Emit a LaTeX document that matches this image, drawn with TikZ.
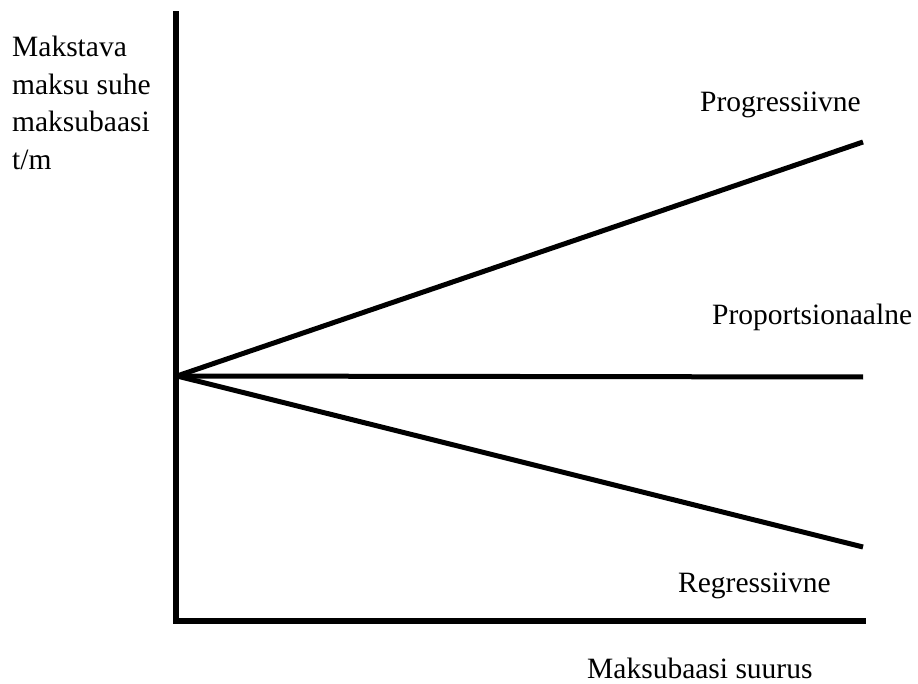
\documentclass[tikz,border=0pt]{standalone}
\usepackage{fontspec}
\setmainfont{Liberation Serif}
\begin{document}
\begin{tikzpicture}[x=1pt,y=-1pt,
  axis/.style={line width=5.5pt,line join=miter,line cap=rect},
  curve/.style={line width=5pt},
  lbl/.style={inner sep=0pt,anchor=base west,font=\fontsize{29.5}{37.8}\selectfont}]
\useasboundingbox (0,0) rectangle (918,684);
\coordinate (top) at (176,14);
\coordinate (corner) at (176,621);
\coordinate (xend) at (863,621);
\coordinate (O) at (177,376);
\coordinate (P) at (863,142);
\coordinate (Q) at (863,377);
\coordinate (R) at (863,547);
\draw[axis] (top) -- (corner) -- (xend);
\draw[curve] (O) -- (P);
\draw[curve] (O) -- (Q);
\draw[curve] (O) -- (R);
\node[lbl] (y1) at (12,57) {Makstava};
\node[lbl] (y2) at (12,95) {maksu suhe};
\node[lbl] (y3) at (12,132) {maksubaasi};
\node[lbl] (y4) at (12,170) {t/m};
\node[lbl] (lp) at (700,112) {Progressiivne};
\node[lbl] (lq) at (712,325) {Proportsionaalne};
\node[lbl] (lr) at (678,592) {Regressiivne};
\node[lbl] (lx) at (587,678) {Maksubaasi suurus};
\end{tikzpicture}
\end{document}
